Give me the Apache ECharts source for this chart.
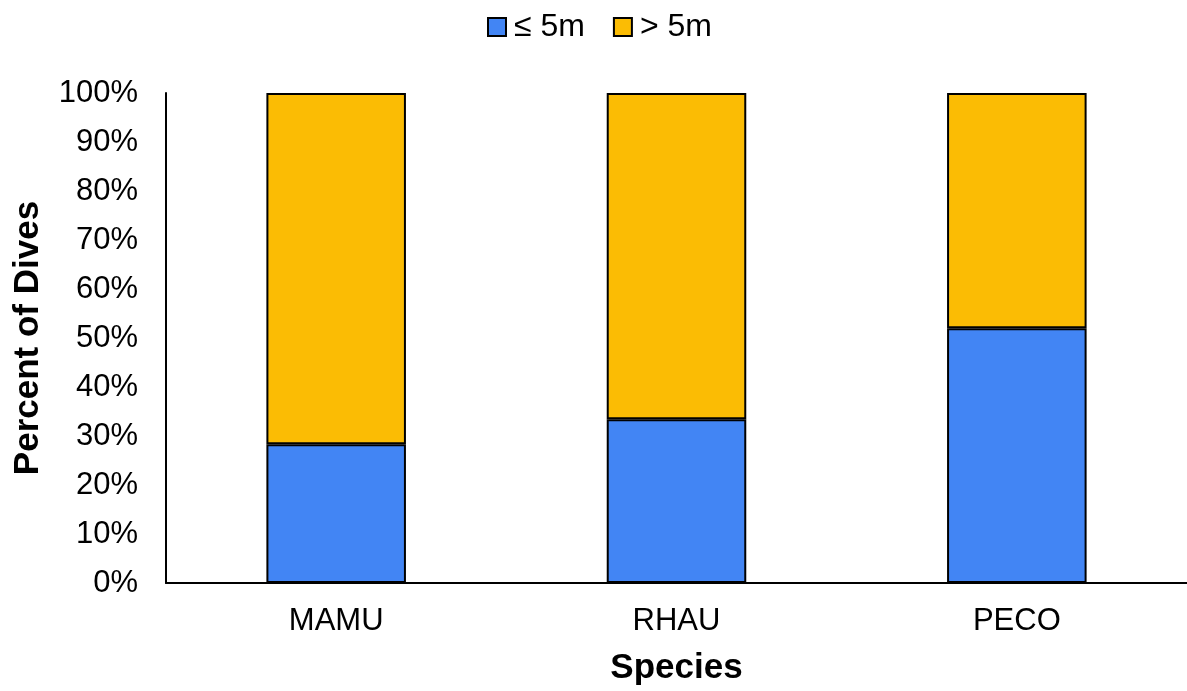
<!DOCTYPE html>
<html>
<head>
<meta charset="utf-8">
<script src="https://cdn.jsdelivr.net/npm/echarts@6/dist/echarts.min.js"></script>
<style>
  html, body { margin: 0; padding: 0; background: #fff; }
  #chart { width: 1187px; height: 691px; }
</style>
</head>
<body>
<div id="chart"></div>
<script>
// Share of dives by depth class for each species (percent)
const species = ['MAMU', 'RHAU', 'PECO'];
const shallowDives = [28.3, 33.4, 52.0];   // ≤ 5m
const deepDives = [71.7, 66.6, 48.0];      // > 5m
const seriesNames = ['≤ 5m', '> 5m'];
const seriesColors = ['#4285F4', '#FBBC04'];

const FONT = '"Liberation Sans", Arial, sans-serif';

const chart = echarts.init(document.getElementById('chart'));

const barStyle = (color) => ({
  color: color,
  borderColor: '#000',
  borderWidth: 2
});

chart.setOption({
  animation: false,
  textStyle: { fontFamily: FONT, color: '#000' },
  legend: {
    top: 6,
    left: 482,
    itemWidth: 18,
    itemHeight: 18,
    itemGap: 28,
    icon: 'rect',
    textStyle: { fontFamily: FONT, fontSize: 32, color: '#000', padding: [0, 0, 0, 3] },
    itemStyle: { borderColor: '#000', borderWidth: 2 },
    data: seriesNames
  },
  grid: {
    left: 166,
    top: 93,
    width: 1026,
    bottom: 107,
    containLabel: false
  },
  xAxis: {
    type: 'category',
    data: species,
    name: 'Species',
    nameLocation: 'middle',
    nameGap: 68,
    nameTextStyle: { fontFamily: FONT, fontSize: 35, fontWeight: 'bold', color: '#000' },
    axisLine: { show: true, lineStyle: { color: '#000', width: 2 } },
    axisTick: { show: false },
    axisLabel: { fontFamily: FONT, fontSize: 31, color: '#000', margin: 23 }
  },
  yAxis: {
    type: 'value',
    min: 0,
    max: 100,
    interval: 10,
    name: 'Percent of Dives',
    nameLocation: 'middle',
    nameGap: 120,
    nameTextStyle: { fontFamily: FONT, fontSize: 35, fontWeight: 'bold', color: '#000' },
    axisLine: { show: true, lineStyle: { color: '#000', width: 2 } },
    axisTick: { show: false },
    splitLine: { show: false },
    axisLabel: { fontFamily: FONT, fontSize: 31, color: '#000', margin: 28, formatter: '{value}%' }
  },
  series: [
    {
      name: seriesNames[0],
      type: 'bar',
      stack: 'dives',
      barWidth: '41%',
      data: shallowDives,
      itemStyle: barStyle(seriesColors[0])
    },
    {
      name: seriesNames[1],
      type: 'bar',
      stack: 'dives',
      barWidth: '41%',
      data: deepDives,
      itemStyle: barStyle(seriesColors[1])
    }
  ]
});
</script>
</body>
</html>
